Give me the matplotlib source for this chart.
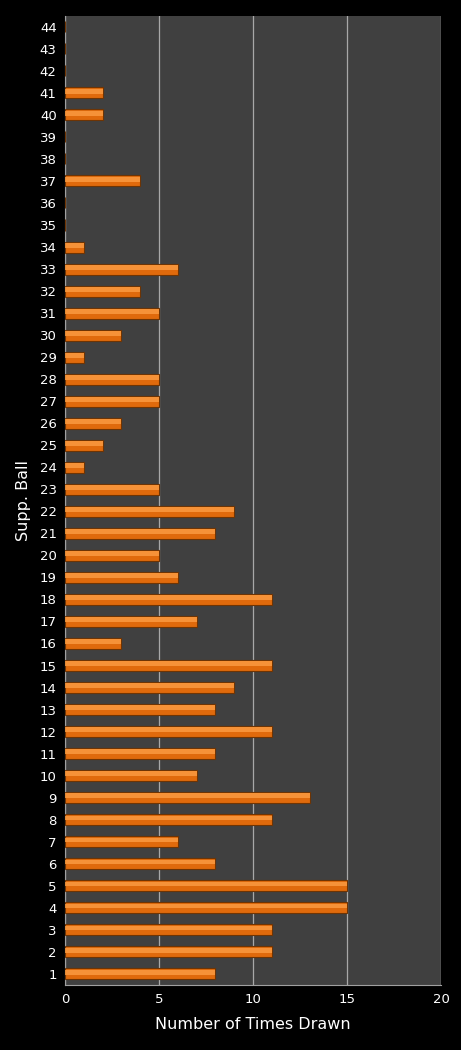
import matplotlib
matplotlib.use('Agg')
import matplotlib.pyplot as plt

# numero de la boule supp. et nombre de tirages
balls = list(range(1, 45))
counts = [8, 11, 11, 15, 15, 8, 6, 11, 13, 7,
          8, 11, 8, 9, 11, 3, 7, 11, 6, 5,
          8, 9, 5, 1, 2, 3, 5, 5, 1, 3,
          5, 4, 6, 1, 0, 0, 4, 0, 0, 2,
          2, 0, 0, 0]
xticks = [0, 5, 10, 15, 20]

fig = plt.figure(figsize=(4.61, 10.5), dpi=100, facecolor='black')
ax = fig.add_axes([0.141, 0.062, 0.816, 0.923])
ax.set_facecolor('#404040')

# barres orange, avec un reflet clair en haut (effet 3D)
ax.barh(balls, counts, height=0.5, color='#e06a0c', edgecolor='#6e3404', linewidth=0.8, zorder=3)
ax.barh([b + 0.08 for b in balls], counts, height=0.22, color='#fb9a40', linewidth=0, zorder=4, alpha=0.85)

ax.set_xlim(0, 20)
ax.set_ylim(0.5, 44.5)
ax.set_xticks(xticks)
ax.set_yticks(balls)
ax.set_yticklabels([str(b) for b in balls])
ax.xaxis.grid(True, color='#a8a8a8', linewidth=0.9, zorder=1)
ax.set_axisbelow(True)

ax.tick_params(colors='white', labelsize=9.5, length=0, pad=6)
for s in ['top', 'right']:
  ax.spines[s].set_visible(False)
for s in ['left', 'bottom']:
  ax.spines[s].set_color('#a0a0a0')

ax.set_xlabel('Number of Times Drawn', color='white', fontsize=11.5, labelpad=8)
ax.set_ylabel('Supp. Ball', color='white', fontsize=11.5, labelpad=6)

fig.savefig('out.png', dpi=100, facecolor='black')
